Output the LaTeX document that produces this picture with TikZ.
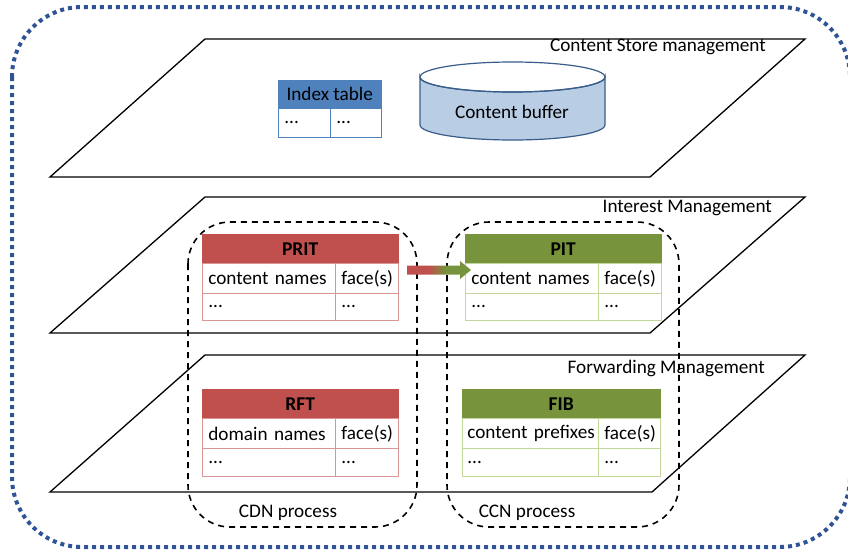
\documentclass[tikz,border=0pt]{standalone}
\usepackage{fontspec}
\setmainfont{Carlito}
\definecolor{redh}{HTML}{C0504D}
\definecolor{redl}{HTML}{D99694}
\definecolor{greenh}{HTML}{77933C}
\definecolor{greenl}{HTML}{C3D69B}
\definecolor{blueh}{HTML}{4F81BD}
\definecolor{cylfill}{HTML}{B9CDE5}
\definecolor{cyldraw}{HTML}{385D8A}
\definecolor{outerc}{RGB}{47,84,150}
\pgfdeclarehorizontalshading{rgshade}{100bp}{color(0bp)=(redh); color(42bp)=(redh); color(55bp)=(greenh); color(100bp)=(greenh)}
\tikzset{
  plane/.style={draw=black, line width=1.3pt, fill=white},
  procbox/.style={draw=black, dash pattern=on 6pt off 5pt, line width=1.6pt, rounded corners=42pt},
  hdr/.style={anchor=north west, inner sep=0pt, font=\fontsize{19.5}{22}\selectfont\bfseries, text=black},
  cell/.style={anchor=north west, inner xsep=6pt, inner ysep=0pt, align=left, fill=white, line width=0.8pt},
  lbl/.style={inner sep=0pt},
}
\begin{document}
\begin{tikzpicture}[x=1pt,y=-1pt, font=\fontsize{19.2}{22}\selectfont]
\useasboundingbox (0,0) rectangle (848,552);
% outer dotted frame
\draw[outerc, line width=4pt, dash pattern=on 4pt off 4pt, rounded corners=70pt] (12,7) rectangle (850,547);
% planes
\draw[plane] (205,39) -- (805,39) -- (650,177) -- (50,177) -- cycle;
\draw[plane] (205,197) -- (805,197) -- (650,333) -- (50,333) -- cycle;
\draw[plane] (205,355) -- (805,355) -- (652,492) -- (50,492) -- cycle;
\node[lbl, anchor=east] (csm) at (766,47) {Content Store management};
\node[lbl, anchor=east] (im) at (772,208) {Interest Management};
\node[lbl, anchor=east] (fm) at (765,368) {Forwarding Management};
% index table
\node[hdr, fill=blueh, draw=blueh, minimum width=103pt, minimum height=28pt, font=\fontsize{19.2}{22}\selectfont] (idxh) at (278,80) {Index table};
\node[cell, draw=blueh, text width=40pt, minimum height=29pt] (idx1) at (278,108) {...};
\node[cell, draw=blueh, text width=39pt, minimum height=29pt] (idx2) at (330,108) {...};
% cylinder
\filldraw[fill=cylfill, draw=cyldraw, line width=1.2pt] (420,77) -- (420,125) arc[start angle=180, end angle=360, x radius=92.5pt, y radius=15pt] -- (605,77) arc[start angle=0, end angle=180, x radius=92.5pt, y radius=-15pt] -- cycle;
\draw[cyldraw, line width=1.2pt] (512.5,77) ellipse[x radius=92.5pt, y radius=15pt];
\node[lbl] (cb) at (512,112) {Content buffer};
% process boxes
\draw[procbox] (188,222) rectangle (417,527);
\draw[procbox] (447,222) rectangle (679,527);
\node[lbl] (cdn) at (288,513) {CDN process};
\node[lbl] (ccn) at (527,513) {CCN process};
% PRIT
\node[hdr, fill=redh, draw=redh, minimum width=196pt, minimum height=29pt] (prith) at (202,234) {PRIT};
\node[cell, draw=redl, text width=121pt, minimum height=30pt] (prit11) at (202,263) {content names};
\node[cell, draw=redl, text width=51pt, minimum height=30pt] (prit12) at (335,263) {face(s)};
\node[cell, draw=redl, text width=121pt, minimum height=27pt] (prit21) at (202,293) {...};
\node[cell, draw=redl, text width=51pt, minimum height=27pt] (prit22) at (335,293) {...};
% PIT
\node[hdr, fill=greenh, draw=greenh, minimum width=196pt, minimum height=29pt] (pith) at (465,234) {PIT};
\node[cell, draw=greenl, text width=121pt, minimum height=30pt] (pit11) at (465,263) {content names};
\node[cell, draw=greenl, text width=51pt, minimum height=30pt] (pit12) at (598,263) {face(s)};
\node[cell, draw=greenl, text width=121pt, minimum height=27pt] (pit21) at (465,293) {...};
\node[cell, draw=greenl, text width=51pt, minimum height=27pt] (pit22) at (598,293) {...};
% RFT
\node[hdr, fill=redh, draw=redh, minimum width=196pt, minimum height=29pt] (rfth) at (202,389) {RFT};
\node[cell, draw=redl, text width=121pt, minimum height=30pt] (rft11) at (202,418) {domain names};
\node[cell, draw=redl, text width=51pt, minimum height=30pt] (rft12) at (335,418) {face(s)};
\node[cell, draw=redl, text width=121pt, minimum height=28pt] (rft21) at (202,448) {...};
\node[cell, draw=redl, text width=51pt, minimum height=28pt] (rft22) at (335,448) {...};
% FIB
\node[hdr, fill=greenh, draw=greenh, minimum width=198pt, minimum height=29pt] (fibh) at (462,389) {FIB};
\node[cell, draw=greenl, inner xsep=5pt, text width=126pt, minimum height=30pt] (fib11) at (462,418) {\mbox{content prefixes}};
\node[cell, draw=greenl, text width=50pt, minimum height=30pt] (fib12) at (598,418) {face(s)};
\node[cell, draw=greenl, inner xsep=5pt, text width=126pt, minimum height=28pt] (fib21) at (462,448) {...};
\node[cell, draw=greenl, text width=50pt, minimum height=28pt] (fib22) at (598,448) {...};
% arrow PRIT -> PIT
\coordinate (as) at (407,270);
\shade[shading=rgshade] (as) ++(0,-4.5) -- ++(53,0) -- ++(0,-4.5) -- ++(11,9) -- ++(-11,9) -- ++(0,-4.5) -- ++(-53,0) -- cycle;
\end{tikzpicture}
\end{document}
